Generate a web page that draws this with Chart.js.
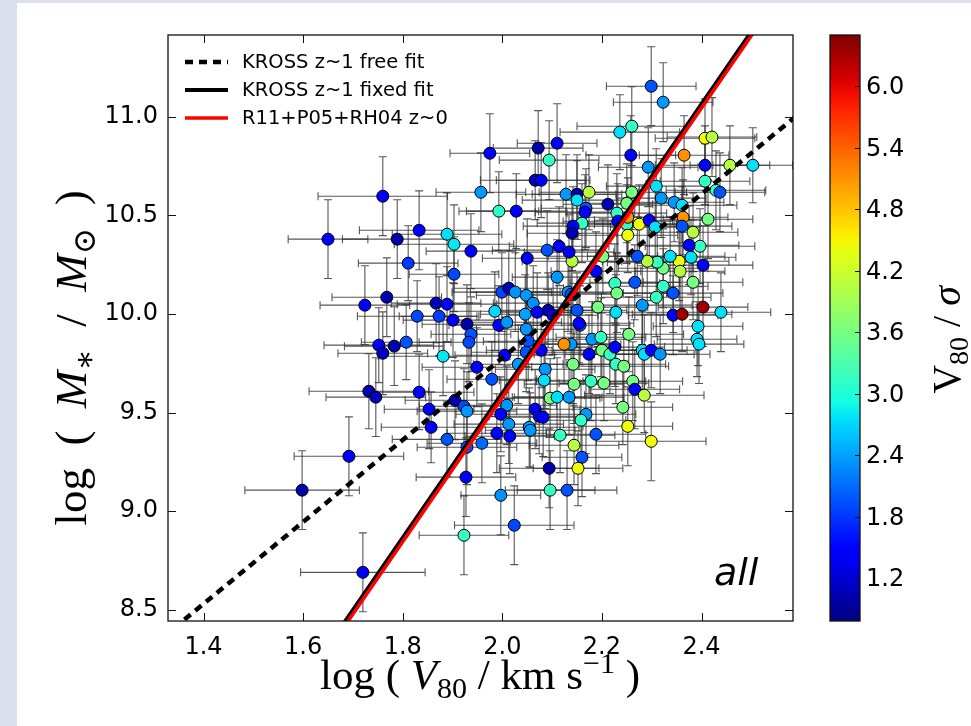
<!DOCTYPE html>
<html lang="en">
<head>
<meta charset="UTF-8">
<title>KROSS stellar-mass Tully-Fisher</title>
<script src="https://cdn.jsdelivr.net/npm/chart.js"></script>
<style>
  html, body { margin: 0; padding: 0; background: #fff; }
  canvas { display: block; }
</style>
</head>
<body>
<canvas id="viz" width="971" height="726"></canvas>
<script>
// values: log V80 [km/s], log M*, V80/sigma, and the error bars
const logV = [
  1.598, 1.692, 1.720, 1.650, 1.760, 1.724, 1.732, 1.746, 1.752, 1.760,
  1.783, 1.807, 1.789, 1.833, 1.811, 1.768, 1.829, 1.867, 1.889, 1.873,
  1.901, 1.929, 1.937, 1.933, 1.889, 1.903, 1.937, 1.903, 1.881, 1.833,
  1.853, 1.857, 1.889, 1.905, 1.923, 1.929, 1.949, 1.979, 1.929, 1.959,
  1.927, 1.997, 2.024, 1.923, 1.975, 1.957, 1.993, 2.028, 2.050, 1.999,
  2.013, 2.026, 2.048, 2.062, 1.985, 1.993, 2.009, 2.046, 2.048, 2.052,
  2.048, 2.005, 2.032, 2.009, 1.997, 2.013, 1.989, 2.015, 2.054, 2.066,
  2.074, 2.082, 2.156, 2.078, 2.138, 2.124, 2.180, 2.198, 2.174, 2.200,
  2.216, 2.226, 2.254, 2.281, 2.285, 2.299, 2.317, 2.393, 2.391, 2.395,
  2.228, 2.244, 2.142, 2.086, 2.084, 2.144, 2.178, 2.204, 2.262, 2.266,
  2.285, 2.096, 2.110, 2.134, 2.168, 2.158, 2.242, 2.252, 2.188, 2.116,
  2.144, 2.160, 2.152, 2.094, 2.096, 2.130, 2.299, 2.056, 2.299, 2.323,
  2.260, 2.236, 2.258, 2.293, 2.110, 2.072, 2.094, 2.066, 2.078, 2.128,
  2.150, 2.174, 2.150, 2.168, 2.166, 2.212, 2.230, 2.232, 2.160, 2.142,
  2.140, 2.250, 2.260, 2.250, 2.275, 2.252, 2.295, 2.307, 2.252, 2.309,
  2.319, 2.345, 2.361, 2.365, 2.407, 2.407, 2.407, 2.421, 2.457, 2.503,
  2.429, 2.437, 2.363, 2.361, 2.383, 2.397, 2.375, 2.413, 2.403, 2.379,
  2.355, 2.357, 2.383, 2.337, 2.323, 2.311, 2.291, 2.271, 2.202, 2.188,
  2.140, 2.134, 2.114, 2.090, 2.110, 2.132, 2.138, 2.150, 2.154, 2.070,
  2.092, 2.102, 2.192, 2.228, 2.226, 2.230, 2.266, 2.281, 2.309, 2.323,
  2.343, 2.343, 2.361, 2.403, 2.439
]
const logM = [
  9.106, 9.278, 8.689, 10.380, 10.598, 10.045, 9.608, 9.578, 9.842, 9.801,
  9.837, 9.857, 10.380, 10.425, 10.258, 10.085, 9.989, 10.055, 10.050, 9.989,
  9.969, 9.948, 9.897, 9.857, 10.405, 10.354, 10.319, 10.202, 9.786, 9.603,
  9.517, 9.425, 9.364, 9.562, 9.532, 9.507, 9.730, 9.669, 9.324, 9.344,
  9.172, 9.080, 8.928, 8.877, 10.816, 10.618, 10.522, 10.522, 10.283, 10.111,
  10.131, 10.111, 10.095, 10.055, 10.014, 9.943, 9.958, 9.999, 9.923, 9.862,
  9.806, 9.791, 9.745, 9.537, 9.491, 9.441, 9.395, 9.380, 9.425, 9.517,
  9.481, 9.476, 9.943, 9.816, 9.847, 9.847, 9.872, 9.882, 9.796, 9.816,
  9.796, 9.832, 9.897, 9.816, 9.796, 9.816, 9.796, 9.938, 9.872, 9.847,
  9.745, 9.735, 9.745, 9.720, 9.664, 9.644, 9.659, 9.649, 9.659, 9.618,
  9.588, 9.573, 9.578, 9.578, 9.491, 9.461, 9.527, 9.430, 9.390, 9.385,
  9.334, 9.273, 9.217, 9.217, 9.106, 9.106, 9.354, 9.410, 11.156, 11.075,
  10.953, 10.923, 10.806, 10.745, 10.867, 10.842, 10.781, 10.679, 10.679, 10.608,
  10.608, 10.618, 10.578, 10.537, 10.517, 10.557, 10.512, 10.471, 10.461, 10.446,
  10.410, 10.562, 10.618, 10.456, 10.456, 10.400, 10.476, 10.441, 10.491, 10.649,
  10.588, 10.567, 10.552, 10.806, 10.755, 10.674, 10.892, 10.898, 10.755, 10.755,
  10.628, 10.618, 10.491, 10.446, 10.415, 10.344, 10.349, 10.481, 10.248, 10.288,
  10.268, 10.217, 10.161, 10.293, 10.232, 10.263, 10.268, 10.293, 10.293, 10.217,
  10.268, 10.314, 10.344, 10.324, 10.187, 10.111, 10.100, 10.019, 9.953, 10.009,
  10.019, 9.994, 10.035, 10.009, 10.156, 10.106, 10.161, 10.045, 10.085, 10.141,
  10.106, 9.994, 9.999, 10.035, 10.009
]
const vSig = [
  1.00, 1.45, 1.45, 1.45, 1.45, 1.45, 1.00, 1.10, 1.45, 1.10,
  1.00, 1.95, 1.00, 1.45, 1.80, 1.00, 1.90, 1.05, 1.50, 1.85,
  1.45, 1.00, 1.95, 1.90, 2.75, 2.80, 1.45, 1.90, 2.80, 1.45,
  1.45, 1.45, 1.95, 1.05, 1.90, 2.35, 1.45, 1.95, 1.95, 2.10,
  1.45, 2.30, 1.90, 3.15, 1.45, 2.35, 3.10, 1.45, 1.45, 1.90,
  1.05, 2.30, 2.35, 2.30, 2.70, 1.45, 2.35, 2.40, 2.35, 1.95,
  1.95, 1.45, 2.35, 2.35, 1.45, 2.35, 1.45, 1.50, 2.40, 1.45,
  1.50, 1.45, 1.95, 1.45, 2.35, 5.10, 2.35, 3.15, 1.45, 3.60,
  3.15, 1.45, 3.60, 2.75, 2.75, 1.45, 2.35, 2.75, 2.75, 2.75,
  3.15, 3.60, 3.60, 2.35, 2.75, 3.60, 3.15, 3.60, 3.60, 1.45,
  4.05, 3.60, 2.75, 2.35, 2.35, 3.15, 3.60, 4.45, 1.95, 3.15,
  4.05, 1.95, 4.45, 1.00, 3.15, 1.95, 4.45, 2.35, 1.95, 2.35,
  3.15, 2.75, 1.45, 2.35, 1.45, 1.00, 3.15, 1.05, 1.45, 2.35,
  1.00, 4.05, 2.75, 1.95, 1.45, 1.05, 3.15, 1.45, 3.15, 1.45,
  1.00, 3.60, 3.60, 3.15, 4.45, 4.45, 1.45, 2.75, 5.10, 2.75,
  2.35, 2.35, 2.75, 5.10, 1.45, 3.15, 4.45, 4.05, 4.05, 2.75,
  3.15, 1.95, 5.10, 1.95, 4.05, 3.15, 1.45, 3.60, 1.45, 2.75,
  4.45, 4.05, 3.60, 2.75, 3.60, 3.15, 4.05, 1.95, 3.60, 1.45,
  4.05, 1.45, 1.45, 1.95, 2.35, 2.35, 1.95, 1.95, 1.45, 1.45,
  1.00, 1.45, 3.60, 2.75, 3.15, 3.60, 1.95, 2.35, 3.15, 3.15,
  1.95, 1.45, 6.35, 6.35, 2.75
]
const errV = [
  0.115, 0.110, 0.125, 0.080, 0.130, 0.090, 0.120, 0.100, 0.110, 0.090,
  0.100, 0.090, 0.110, 0.120, 0.100, 0.110, 0.120, 0.090, 0.100, 0.080,
  0.100, 0.090, 0.080, 0.100, 0.110, 0.120, 0.090, 0.090, 0.130, 0.110,
  0.090, 0.100, 0.110, 0.100, 0.090, 0.100, 0.110, 0.090, 0.100, 0.110,
  0.100, 0.080, 0.120, 0.090, 0.080, 0.090, 0.080, 0.100, 0.090, 0.100,
  0.110, 0.090, 0.100, 0.080, 0.090, 0.100, 0.110, 0.090, 0.100, 0.090,
  0.110, 0.100, 0.090, 0.100, 0.090, 0.110, 0.100, 0.090, 0.100, 0.090,
  0.100, 0.080, 0.100, 0.110, 0.100, 0.090, 0.100, 0.090, 0.110, 0.100,
  0.090, 0.100, 0.110, 0.090, 0.100, 0.090, 0.100, 0.090, 0.080, 0.090,
  0.100, 0.090, 0.110, 0.100, 0.090, 0.100, 0.110, 0.090, 0.100, 0.090,
  0.120, 0.100, 0.090, 0.110, 0.100, 0.090, 0.100, 0.090, 0.100, 0.110,
  0.090, 0.080, 0.090, 0.100, 0.090, 0.100, 0.110, 0.090, 0.090, 0.100,
  0.110, 0.120, 0.090, 0.100, 0.080, 0.090, 0.100, 0.110, 0.090, 0.100,
  0.090, 0.100, 0.110, 0.090, 0.100, 0.090, 0.100, 0.110, 0.090, 0.100,
  0.090, 0.090, 0.110, 0.100, 0.090, 0.100, 0.110, 0.090, 0.100, 0.100,
  0.090, 0.100, 0.110, 0.090, 0.100, 0.090, 0.100, 0.090, 0.080, 0.080,
  0.100, 0.090, 0.090, 0.100, 0.090, 0.110, 0.100, 0.090, 0.100, 0.090,
  0.100, 0.090, 0.100, 0.110, 0.090, 0.100, 0.090, 0.100, 0.110, 0.090,
  0.100, 0.090, 0.100, 0.110, 0.090, 0.100, 0.090, 0.100, 0.110, 0.090,
  0.100, 0.090, 0.100, 0.110, 0.090, 0.100, 0.090, 0.100, 0.110, 0.090,
  0.100, 0.090, 0.100, 0.090, 0.100
]
const errM = [
  0.20, 0.20, 0.20, 0.20, 0.20, 0.20, 0.19, 0.20, 0.19, 0.21,
  0.20, 0.19, 0.20, 0.20, 0.19, 0.20, 0.18, 0.20, 0.19, 0.20,
  0.19, 0.20, 0.19, 0.20, 0.21, 0.20, 0.19, 0.19, 0.20, 0.19,
  0.20, 0.18, 0.19, 0.20, 0.19, 0.20, 0.20, 0.19, 0.19, 0.20,
  0.20, 0.20, 0.20, 0.20, 0.20, 0.20, 0.20, 0.19, 0.20, 0.20,
  0.19, 0.20, 0.20, 0.19, 0.20, 0.20, 0.19, 0.20, 0.19, 0.20,
  0.20, 0.19, 0.20, 0.20, 0.19, 0.20, 0.20, 0.19, 0.20, 0.20,
  0.19, 0.20, 0.20, 0.19, 0.20, 0.20, 0.19, 0.20, 0.20, 0.19,
  0.20, 0.20, 0.19, 0.20, 0.20, 0.19, 0.20, 0.20, 0.19, 0.20,
  0.20, 0.19, 0.20, 0.20, 0.19, 0.20, 0.20, 0.19, 0.20, 0.20,
  0.19, 0.20, 0.20, 0.19, 0.20, 0.20, 0.19, 0.20, 0.20, 0.19,
  0.20, 0.20, 0.19, 0.20, 0.20, 0.20, 0.20, 0.19, 0.20, 0.20,
  0.20, 0.19, 0.20, 0.20, 0.20, 0.19, 0.20, 0.20, 0.19, 0.20,
  0.20, 0.19, 0.20, 0.20, 0.19, 0.20, 0.20, 0.19, 0.20, 0.20,
  0.19, 0.20, 0.19, 0.20, 0.20, 0.19, 0.20, 0.20, 0.20, 0.19,
  0.20, 0.20, 0.19, 0.20, 0.20, 0.19, 0.20, 0.20, 0.20, 0.19,
  0.20, 0.20, 0.19, 0.20, 0.20, 0.19, 0.20, 0.20, 0.20, 0.19,
  0.20, 0.20, 0.19, 0.20, 0.20, 0.19, 0.20, 0.20, 0.19, 0.20,
  0.20, 0.19, 0.20, 0.20, 0.19, 0.20, 0.20, 0.19, 0.20, 0.20,
  0.19, 0.20, 0.20, 0.19, 0.20, 0.20, 0.19, 0.20, 0.20, 0.19,
  0.20, 0.20, 0.19, 0.20, 0.20
]

// fitted relations, as end points
const freeFitX = [1.34, 2.60]
const freeFitY = [8.404, 11.025]
const fixedFitX = [1.68, 2.51]
const fixedFitY = [8.424, 11.469]
const localFitX = [1.68, 2.51]
const localFitY = [8.404, 11.449]
const legendLabels = ['KROSS z~1 free fit', 'KROSS z~1 fixed fit', 'R11+P05+RH04 z~0']

const xRange = [1.3287, 2.5837]
const yRange = [8.442, 11.416]
const xTicks = [1.4, 1.6, 1.8, 2.0, 2.2, 2.4]
const yTicks = [8.5, 9.0, 9.5, 10.0, 10.5, 11.0]
const cbTicks = [1.2, 1.8, 2.4, 3.0, 3.6, 4.2, 4.8, 5.4, 6.0]
const cbRange = [0.78, 6.5]

// matplotlib "jet"
function jet(t) {
  t = Math.min(1, Math.max(0, t))
  const lerp = pts => {
    for (let i = 1; i < pts.length; i++) {
      if (t <= pts[i][0]) {
        const [x0, y0] = pts[i - 1], [x1, y1] = pts[i]
        return y0 + (y1 - y0) * (t - x0) / (x1 - x0)
      }
    }
    return pts[pts.length - 1][1]
  }
  const r = lerp([[0, 0], [0.35, 0], [0.66, 1], [0.89, 1], [1, 0.5]])
  const g = lerp([[0, 0], [0.125, 0], [0.375, 1], [0.64, 1], [0.91, 0], [1, 0]])
  const b = lerp([[0, 0.5], [0.11, 1], [0.34, 1], [0.65, 0], [1, 0]])
  return `rgb(${Math.round(r * 255)},${Math.round(g * 255)},${Math.round(b * 255)})`
}
const colourOf = v => jet((v - cbRange[0]) / (cbRange[1] - cbRange[0]))

const TICK_FONT = '"DejaVu Sans", sans-serif'
const SERIF = '"Liberation Serif", "DejaVu Serif", serif'

// draws a mathtext-like label from pieces: {t, it, sub, sup}
function drawRich(ctx, parts, size, cx, cy, rot) {
  ctx.save()
  ctx.translate(cx, cy)
  ctx.rotate(rot)
  const fontFor = p => `${p.it ? 'italic ' : ''}${(p.sub || p.sup) ? size * 0.7 : size}px ${SERIF}`
  let w = 0
  parts.forEach(p => { ctx.font = fontFor(p); p.w = ctx.measureText(p.t).width; w += p.w })
  let x = -w / 2
  ctx.fillStyle = '#000'
  ctx.textBaseline = 'alphabetic'
  ctx.textAlign = 'left'
  parts.forEach(p => {
    ctx.font = fontFor(p)
    const dy = p.sub ? size * 0.2 : p.sup ? -size * 0.38 : 0
    ctx.fillText(p.t, x, dy + size * 0.3)
    x += p.w
  })
  ctx.restore()
}

const background = {
  id: 'background',
  beforeDraw(chart) {
    const { ctx, width, height } = chart
    ctx.save()
    ctx.fillStyle = '#dbe1ec'
    ctx.fillRect(0, 0, width, height)
    ctx.fillStyle = '#fff'
    ctx.fillRect(17, 3, width - 17, height - 3)
    ctx.restore()
  }
}

const errorBars = {
  id: 'errorBars',
  beforeDatasetsDraw(chart) {
    const { ctx, chartArea: a, scales: { x, y } } = chart
    ctx.save()
    ctx.beginPath()
    ctx.rect(a.left, a.top, a.right - a.left, a.bottom - a.top)
    ctx.clip()
    ctx.strokeStyle = 'rgba(45,45,45,0.8)'
    ctx.lineWidth = 1.1
    const cap = 4
    logV.forEach((v, i) => {
      const px = x.getPixelForValue(v), py = y.getPixelForValue(logM[i])
      const x0 = x.getPixelForValue(v - errV[i]), x1 = x.getPixelForValue(v + errV[i])
      const y0 = y.getPixelForValue(logM[i] - errM[i]), y1 = y.getPixelForValue(logM[i] + errM[i])
      ctx.beginPath()
      ctx.moveTo(x0, py); ctx.lineTo(x1, py)
      ctx.moveTo(px, y0); ctx.lineTo(px, y1)
      ctx.moveTo(x0, py - cap); ctx.lineTo(x0, py + cap)
      ctx.moveTo(x1, py - cap); ctx.lineTo(x1, py + cap)
      ctx.moveTo(px - cap, y0); ctx.lineTo(px + cap, y0)
      ctx.moveTo(px - cap, y1); ctx.lineTo(px + cap, y1)
      ctx.stroke()
    })
    ctx.restore()
  }
}

const decorations = {
  id: 'decorations',
  afterDraw(chart) {
    const { ctx, chartArea: a, scales: { x, y } } = chart
    ctx.save()

    // frame and inward ticks on all four sides
    ctx.strokeStyle = '#111'
    ctx.lineWidth = 1.3
    ctx.strokeRect(a.left, a.top, a.right - a.left, a.bottom - a.top)
    ctx.lineWidth = 1
    ctx.beginPath()
    xTicks.forEach(v => {
      const p = Math.round(x.getPixelForValue(v)) + 0.5
      ctx.moveTo(p, a.bottom); ctx.lineTo(p, a.bottom - 8)
      ctx.moveTo(p, a.top); ctx.lineTo(p, a.top + 8)
    })
    yTicks.forEach(v => {
      const p = Math.round(y.getPixelForValue(v)) + 0.5
      ctx.moveTo(a.left, p); ctx.lineTo(a.left + 8, p)
      ctx.moveTo(a.right, p); ctx.lineTo(a.right - 8, p)
    })
    ctx.stroke()

    // legend (no frame), upper left
    const styles = chart.data.datasets.slice(0, 3)
    ctx.font = `19.5px ${TICK_FONT}`
    ctx.textBaseline = 'middle'
    ctx.fillStyle = '#000'
    styles.forEach((ds, i) => {
      const ly = 62 + i * 28
      ctx.save()
      ctx.strokeStyle = ds.borderColor
      ctx.lineWidth = ds.borderWidth
      ctx.setLineDash(ds.borderDash || [])
      ctx.beginPath()
      ctx.moveTo(185, ly); ctx.lineTo(228, ly)
      ctx.stroke()
      ctx.restore()
      ctx.fillText(legendLabels[i], 242, ly + 1)
    })

    // sample label
    ctx.font = `italic 38px ${TICK_FONT}`
    ctx.textBaseline = 'alphabetic'
    ctx.fillText('all', 714, 585)

    // axis titles
    drawRich(ctx, [
      { t: 'log ( ' }, { t: 'V', it: true }, { t: '80', sub: true },
      { t: ' / km s' }, { t: '\u22121', sup: true }, { t: ' )' }
    ], 43, 480, 676, 0)
    drawRich(ctx, [
      { t: 'log  (  ' }, { t: 'M', it: true }, { t: '\u2217', sub: true },
      { t: '  /  ' }, { t: 'M', it: true }, { t: '\u2299', sub: true }, { t: '  )' }
    ], 45, 72, 358, -Math.PI / 2)

    // colour bar
    const cb = { left: 830, right: 860, top: a.top, bottom: a.bottom }
    const toPx = v => cb.bottom - (v - cbRange[0]) / (cbRange[1] - cbRange[0]) * (cb.bottom - cb.top)
    const grad = ctx.createLinearGradient(0, cb.bottom, 0, cb.top)
    for (let k = 0; k <= 40; k++) grad.addColorStop(k / 40, jet(k / 40))
    ctx.fillStyle = grad
    ctx.fillRect(cb.left, cb.top, cb.right - cb.left, cb.bottom - cb.top)
    ctx.strokeStyle = '#111'
    ctx.lineWidth = 1.3
    ctx.strokeRect(cb.left, cb.top, cb.right - cb.left, cb.bottom - cb.top)
    ctx.lineWidth = 1
    ctx.font = `24px ${TICK_FONT}`
    ctx.fillStyle = '#000'
    ctx.textBaseline = 'middle'
    ctx.textAlign = 'left'
    cbTicks.forEach(v => {
      const p = Math.round(toPx(v)) + 0.5
      ctx.beginPath()
      ctx.moveTo(cb.right - 5, p); ctx.lineTo(cb.right, p)
      ctx.stroke()
      ctx.fillText(v.toFixed(1), cb.right + 6, p + 1)
    })
    drawRich(ctx, [
      { t: 'V', it: false }, { t: '80', sub: true }, { t: ' / ' }, { t: '\u03c3', it: true }
    ], 40, 948, 340, -Math.PI / 2)

    ctx.restore()
  }
}

const pts = (xs, ys) => xs.map((v, i) => ({ x: v, y: ys[i] }))

new Chart(document.getElementById('viz'), {
  type: 'scatter',
  data: {
    datasets: [
      { label: legendLabels[0], data: pts(freeFitX, freeFitY), showLine: true, pointRadius: 0,
        borderColor: '#000', borderWidth: 4.5, borderDash: [8, 6], order: 0, clip: 0 },
      { label: legendLabels[1], data: pts(fixedFitX, fixedFitY), showLine: true, pointRadius: 0,
        borderColor: '#000', borderWidth: 4, order: 2, clip: 0 },
      { label: legendLabels[2], data: pts(localFitX, localFitY), showLine: true, pointRadius: 0,
        borderColor: '#ff0000', borderWidth: 3.5, order: 1, clip: 0 },
      { label: 'KROSS galaxies', data: pts(logV, logM),
        pointBackgroundColor: vSig.map(colourOf), pointBorderColor: '#000', pointBorderWidth: 1,
        pointRadius: 6, order: 5, clip: 0 }
    ]
  },
  options: {
    responsive: false,
    animation: false,
    devicePixelRatio: 1,
    layout: { padding: { left: 0, top: 35, right: 178, bottom: 0 } },
    plugins: { legend: { display: false }, tooltip: { enabled: false } },
    scales: {
      x: {
        type: 'linear', min: xRange[0], max: xRange[1],
        afterBuildTicks: s => { s.ticks = xTicks.map(v => ({ value: v })) },
        afterFit: s => { s.height = 105 },
        grid: { display: false, drawTicks: false }, border: { display: false },
        ticks: { font: { family: TICK_FONT, size: 24 }, color: '#000', padding: 12,
          maxRotation: 0, autoSkip: false, callback: v => Number(v).toFixed(1) }
      },
      y: {
        type: 'linear', min: yRange[0], max: yRange[1],
        afterBuildTicks: s => { s.ticks = yTicks.map(v => ({ value: v })) },
        afterFit: s => { s.width = 168 },
        grid: { display: false, drawTicks: false }, border: { display: false },
        ticks: { font: { family: TICK_FONT, size: 24 }, color: '#000', padding: 10,
          autoSkip: false, callback: v => Number(v).toFixed(1) }
      }
    }
  },
  plugins: [background, errorBars, decorations]
})
</script>
</body>
</html>
